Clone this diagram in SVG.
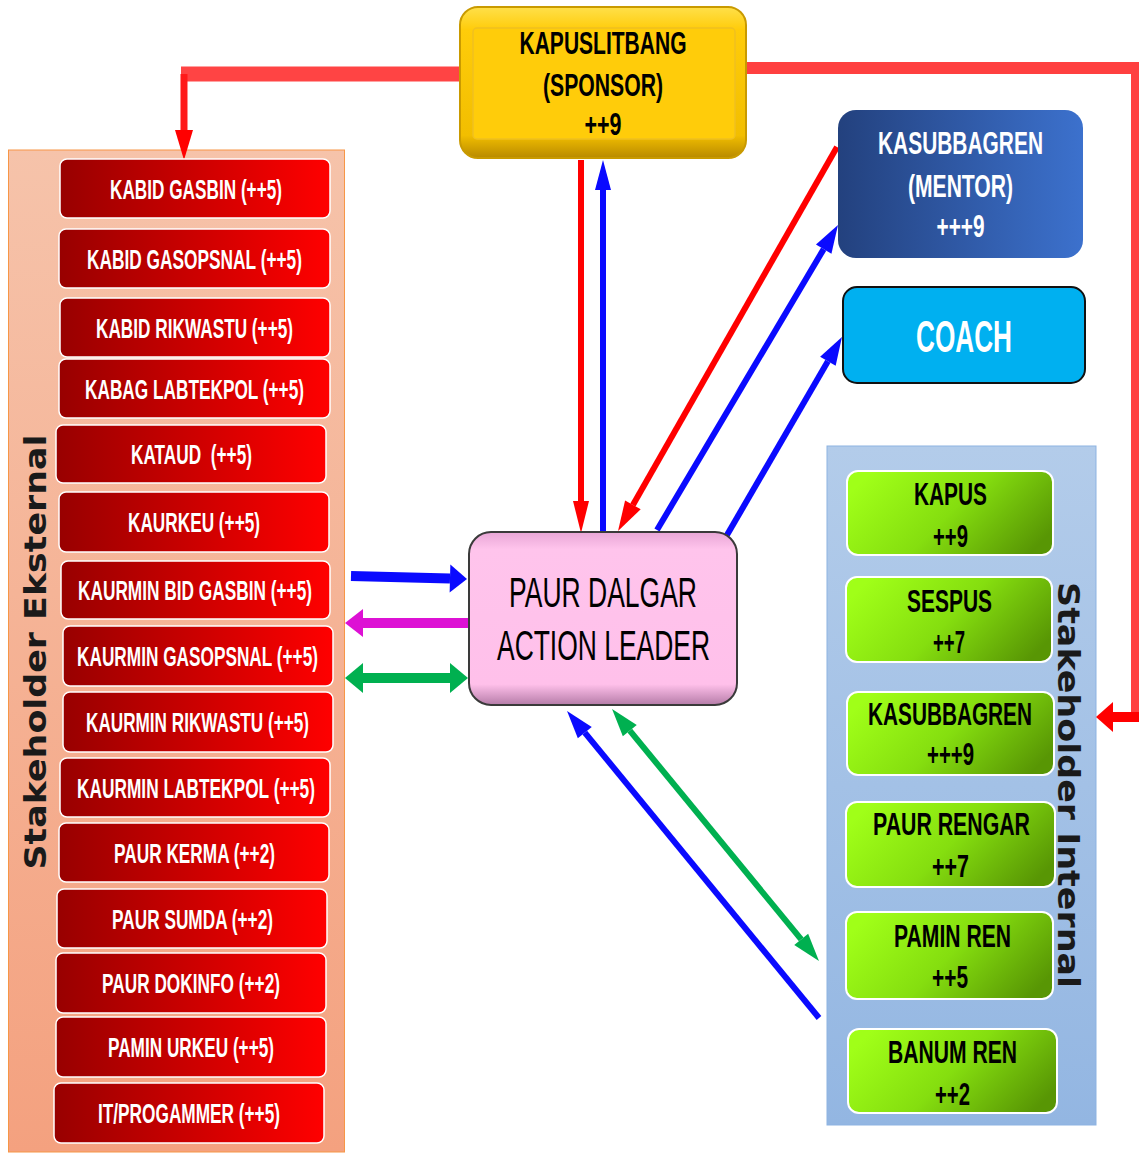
<svg xmlns="http://www.w3.org/2000/svg" width="1139" height="1153" viewBox="0 0 1139 1153">
<style>
.rb{fill:url(#gRed);stroke:#FFFFFF;stroke-width:1.5}
.gb{fill:url(#gGreen);stroke:#FFFFFF;stroke-width:2}
.rt{font-family:"Liberation Sans Narrow","Liberation Sans",Arial,sans-serif;font-weight:bold;font-size:27px;fill:#FFFFFF;text-anchor:middle}
.gt{font-family:"Liberation Sans Narrow","Liberation Sans",Arial,sans-serif;font-weight:bold;font-size:32px;fill:#000000;text-anchor:middle}
.wt{font-family:"Liberation Sans Narrow","Liberation Sans",Arial,sans-serif;font-weight:bold;font-size:32px;fill:#FFFFFF;text-anchor:middle}
.kt{font-family:"Liberation Sans Narrow","Liberation Sans",Arial,sans-serif;font-weight:bold;font-size:32px;fill:#000000;text-anchor:middle}
.pt{font-family:"Liberation Sans Narrow","Liberation Sans",Arial,sans-serif;font-weight:normal;font-size:43px;fill:#000000;text-anchor:middle}
.st{font-family:"DejaVu Sans",Verdana,sans-serif;font-weight:bold;font-size:30px;fill:#1A1A1A;text-anchor:middle}
.thin{fill:none;stroke-width:6;stroke-linecap:butt}
.thick{fill:none;stroke-width:10;stroke-linecap:butt}
</style>
<defs>
<linearGradient id="gRed" x1="0" y1="0" x2="1" y2="0"><stop offset="0" stop-color="#980000"/><stop offset="1" stop-color="#FF0000"/></linearGradient>
<linearGradient id="gGreen" x1="0" y1="0.3" x2="1" y2="0.7"><stop offset="0" stop-color="#A0FF18"/><stop offset="0.5" stop-color="#85DE0F"/><stop offset="1" stop-color="#589604"/></linearGradient>
<linearGradient id="gMentor" x1="0" y1="0" x2="1" y2="0"><stop offset="0" stop-color="#23417E"/><stop offset="1" stop-color="#3C71CD"/></linearGradient>
<linearGradient id="gLeft" x1="0" y1="0" x2="0" y2="1"><stop offset="0" stop-color="#F6C3AA"/><stop offset="1" stop-color="#F4A17F"/></linearGradient>
<linearGradient id="gRight" x1="0" y1="0" x2="0" y2="1"><stop offset="0" stop-color="#B3CCEA"/><stop offset="1" stop-color="#93B6E2"/></linearGradient>
<linearGradient id="gGold" x1="0" y1="0" x2="0" y2="1"><stop offset="0" stop-color="#FFE04A"/><stop offset="0.15" stop-color="#FFCC0A"/><stop offset="0.85" stop-color="#F2BE00"/><stop offset="1" stop-color="#B88A00"/></linearGradient>
<linearGradient id="gPink" x1="0" y1="0" x2="0" y2="1"><stop offset="0" stop-color="#E8A6D6"/><stop offset="0.1" stop-color="#FFC4EC"/><stop offset="0.88" stop-color="#FFC0EA"/><stop offset="1" stop-color="#B57CA8"/></linearGradient>
<marker id="mRed" markerUnits="userSpaceOnUse" orient="auto-start-reverse" overflow="visible" refX="0" refY="0" markerWidth="1" markerHeight="1"><path d="M0,-8 L32,0 L0,8 z" fill="#FF0000"/></marker>
<marker id="mRedD" markerUnits="userSpaceOnUse" orient="auto-start-reverse" overflow="visible" refX="0" refY="0" markerWidth="1" markerHeight="1"><path d="M0,-9 L30,0 L0,9 z" fill="#FF0000"/></marker>
<marker id="mBlue" markerUnits="userSpaceOnUse" orient="auto-start-reverse" overflow="visible" refX="0" refY="0" markerWidth="1" markerHeight="1"><path d="M0,-8 L30,0 L0,8 z" fill="#0A0AFF"/></marker>
<marker id="mBlueD" markerUnits="userSpaceOnUse" orient="auto-start-reverse" overflow="visible" refX="0" refY="0" markerWidth="1" markerHeight="1"><path d="M0,-9 L28,0 L0,9 z" fill="#0A0AFF"/></marker>
<marker id="mGreenD" markerUnits="userSpaceOnUse" orient="auto-start-reverse" overflow="visible" refX="0" refY="0" markerWidth="1" markerHeight="1"><path d="M0,-9 L28,0 L0,9 z" fill="#00B050"/></marker>
<marker id="mBlueT" markerUnits="userSpaceOnUse" orient="auto-start-reverse" overflow="visible" refX="0" refY="0" markerWidth="1" markerHeight="1"><path d="M0,-14 L17,0 L0,14 z" fill="#0A0AFF"/></marker>
<marker id="mMagT" markerUnits="userSpaceOnUse" orient="auto-start-reverse" overflow="visible" refX="0" refY="0" markerWidth="1" markerHeight="1"><path d="M0,-14 L18,0 L0,14 z" fill="#DD11D4"/></marker>
<marker id="mGreenT" markerUnits="userSpaceOnUse" orient="auto-start-reverse" overflow="visible" refX="0" refY="0" markerWidth="1" markerHeight="1"><path d="M0,-15 L18,0 L0,15 z" fill="#00B050"/></marker>
<marker id="mRedT" markerUnits="userSpaceOnUse" orient="auto-start-reverse" overflow="visible" refX="0" refY="0" markerWidth="1" markerHeight="1"><path d="M0,-15 L17,0 L0,15 z" fill="#FF0000"/></marker>
</defs>
<rect width="1139" height="1153" fill="#FFFFFF"/>

<g id="panel-eksternal">
<rect x="8.5" y="150" width="336" height="1002" fill="url(#gLeft)" stroke="#F79646" stroke-width="1"/>
<text class="st" transform="translate(46,652) rotate(-90)" textLength="435" lengthAdjust="spacingAndGlyphs">Stakeholder Eksternal</text>
</g>
<g id="panel-internal">
<rect x="827" y="446" width="269" height="679" fill="url(#gRight)" stroke="#8DB3E2" stroke-width="1"/>
<text class="st" transform="translate(1058,785) rotate(90)" textLength="406" lengthAdjust="spacingAndGlyphs">Stakeholder Internal</text>
</g>

<g id="connectors">
<path d="M460,74 H181" stroke="#FF4444" stroke-width="15" fill="none"/>
<path d="M184,74 V130" stroke="#FF1A1A" stroke-width="7" fill="none" marker-end="url(#mRedD)"/>
<path d="M746,68 H1139" stroke="#FF4040" stroke-width="12" fill="none"/>
<path d="M1135,62 V722" stroke="#FF4040" stroke-width="8" fill="none"/>
<path d="M1139,717 H1113" stroke="#FF0000" stroke-width="10" fill="none" marker-end="url(#mRedT)"/>
<path class="thin" d="M581,160 V501" stroke="#FF0000" stroke-width="5" marker-end="url(#mRed)"/>
<path class="thin" d="M603,532 V190" stroke="#0A0AFF" stroke-width="5" marker-end="url(#mBlue)"/>
<path class="thin" d="M837,147 L632.9,504.9" stroke="#FF0000" marker-end="url(#mRedD)"/>
<path class="thin" d="M657,530 L823.7,249.1" stroke="#0A0AFF" marker-end="url(#mBlueD)"/>
<path class="thin" d="M727,535 L827.9,361.2" stroke="#0A0AFF" marker-end="url(#mBlueD)"/>
<path class="thin" d="M819,1018 L584.8,732.6" stroke="#0A0AFF" marker-end="url(#mBlueD)"/>
<path class="thin" d="M629.8,730.6 L801.2,939.4" stroke="#00B050" marker-start="url(#mGreenD)" marker-end="url(#mGreenD)"/>
<path class="thick" d="M351,576 L450,578.5" stroke="#0A0AFF" marker-end="url(#mBlueT)"/>
<path class="thick" d="M473,623 H363" stroke="#DD11D4" marker-end="url(#mMagT)"/>
<path class="thick" d="M363,678 H450" stroke="#00B050" marker-start="url(#mGreenT)" marker-end="url(#mGreenT)"/>
</g>

<g id="kapuslitbang">
<rect x="460" y="7" width="286" height="151" rx="18" fill="url(#gGold)" stroke="#C99A00" stroke-width="2"/>
<rect x="473" y="28" width="262" height="111" rx="4" fill="#FFCC0A" stroke="#F0C020" stroke-width="1.5"/>
<text class="kt" x="603" y="54" textLength="167" lengthAdjust="spacingAndGlyphs">KAPUSLITBANG</text>
<text class="kt" x="603" y="96" textLength="120" lengthAdjust="spacingAndGlyphs">(SPONSOR)</text>
<text class="kt" x="603" y="135" textLength="37" lengthAdjust="spacingAndGlyphs">++9</text>
</g>

<g id="mentor">
<rect x="838" y="110" width="245" height="148" rx="18" fill="url(#gMentor)"/>
<text class="wt" x="960.5" y="154" textLength="165" lengthAdjust="spacingAndGlyphs">KASUBBAGREN</text>
<text class="wt" x="960.5" y="197" textLength="105" lengthAdjust="spacingAndGlyphs">(MENTOR)</text>
<text class="wt" x="960.5" y="237" textLength="48" lengthAdjust="spacingAndGlyphs">+++9</text>
</g>

<g id="coach">
<rect x="843" y="287" width="242" height="96" rx="14" fill="#00B0F0" stroke="#111111" stroke-width="2"/>
<text class="wt" x="964" y="352" style="font-size:45px" textLength="96" lengthAdjust="spacingAndGlyphs">COACH</text>
</g>

<g id="action-leader">
<rect x="469" y="532" width="268" height="173" rx="22" fill="url(#gPink)" stroke="#3A3A3A" stroke-width="2"/>
<text class="pt" x="603" y="607" textLength="188" lengthAdjust="spacingAndGlyphs">PAUR DALGAR</text>
<text class="pt" x="603.5" y="660" textLength="213" lengthAdjust="spacingAndGlyphs">ACTION LEADER</text>
</g>

<g id="kabid-gasbin"><rect class="rb" x="60" y="159" width="270" height="59" rx="7"/><text class="rt" x="196" y="199" textLength="172" lengthAdjust="spacingAndGlyphs">KABID GASBIN (++5)</text></g>
<g id="kabid-gasopsnal"><rect class="rb" x="59" y="229" width="271" height="59" rx="7"/><text class="rt" x="194.5" y="269" textLength="215" lengthAdjust="spacingAndGlyphs">KABID GASOPSNAL (++5)</text></g>
<g id="kabid-rikwastu"><rect class="rb" x="60" y="298" width="270" height="59" rx="7"/><text class="rt" x="194.5" y="338" textLength="197" lengthAdjust="spacingAndGlyphs">KABID RIKWASTU (++5)</text></g>
<g id="kabag-labtekpol"><rect class="rb" x="59" y="359" width="271" height="59" rx="7"/><text class="rt" x="194.5" y="399" textLength="219" lengthAdjust="spacingAndGlyphs">KABAG LABTEKPOL (++5)</text></g>
<g id="kataud"><rect class="rb" x="56" y="425" width="270" height="58" rx="7"/><text class="rt" x="191.5" y="464" textLength="121" lengthAdjust="spacingAndGlyphs">KATAUD&#160; (++5)</text></g>
<g id="kaurkeu"><rect class="rb" x="59" y="492" width="270" height="60" rx="7"/><text class="rt" x="194" y="532" textLength="132" lengthAdjust="spacingAndGlyphs">KAURKEU (++5)</text></g>
<g id="kaurmin-bid-gasbin"><rect class="rb" x="61" y="561" width="269" height="58" rx="7"/><text class="rt" x="195" y="600" textLength="234" lengthAdjust="spacingAndGlyphs">KAURMIN BID GASBIN (++5)</text></g>
<g id="kaurmin-gasopsnal"><rect class="rb" x="63" y="626" width="270" height="60" rx="7"/><text class="rt" x="197.5" y="666" textLength="241" lengthAdjust="spacingAndGlyphs">KAURMIN GASOPSNAL (++5)</text></g>
<g id="kaurmin-rikwastu"><rect class="rb" x="63" y="692" width="270" height="60" rx="7"/><text class="rt" x="197.5" y="732" textLength="223" lengthAdjust="spacingAndGlyphs">KAURMIN RIKWASTU (++5)</text></g>
<g id="kaurmin-labtekpol"><rect class="rb" x="60" y="758" width="270" height="59" rx="7"/><text class="rt" x="196" y="798" textLength="238" lengthAdjust="spacingAndGlyphs">KAURMIN LABTEKPOL (++5)</text></g>
<g id="paur-kerma"><rect class="rb" x="59" y="823" width="270" height="59" rx="7"/><text class="rt" x="194.5" y="863" textLength="161" lengthAdjust="spacingAndGlyphs">PAUR KERMA (++2)</text></g>
<g id="paur-sumda"><rect class="rb" x="57" y="889" width="270" height="59" rx="7"/><text class="rt" x="192.5" y="929" textLength="161" lengthAdjust="spacingAndGlyphs">PAUR SUMDA (++2)</text></g>
<g id="paur-dokinfo"><rect class="rb" x="56" y="953" width="270" height="60" rx="7"/><text class="rt" x="191" y="993" textLength="178" lengthAdjust="spacingAndGlyphs">PAUR DOKINFO (++2)</text></g>
<g id="pamin-urkeu"><rect class="rb" x="56" y="1017" width="270" height="60" rx="7"/><text class="rt" x="191" y="1057" textLength="166" lengthAdjust="spacingAndGlyphs">PAMIN URKEU (++5)</text></g>
<g id="it-progammer"><rect class="rb" x="54" y="1083" width="270" height="60" rx="7"/><text class="rt" x="189" y="1123" textLength="182" lengthAdjust="spacingAndGlyphs">IT/PROGAMMER (++5)</text></g>

<g id="kapus"><rect class="gb" x="847" y="471" width="206" height="84" rx="11"/><text class="gt" x="950.5" y="505" textLength="73" lengthAdjust="spacingAndGlyphs">KAPUS</text><text class="gt" x="950.5" y="547" textLength="35" lengthAdjust="spacingAndGlyphs">++9</text></g>
<g id="sespus"><rect class="gb" x="846" y="577" width="206" height="85" rx="11"/><text class="gt" x="949.5" y="612" textLength="85" lengthAdjust="spacingAndGlyphs">SESPUS</text><text class="gt" x="949" y="653" textLength="32" lengthAdjust="spacingAndGlyphs">++7</text></g>
<g id="kasubbagren"><rect class="gb" x="847" y="692" width="207" height="83" rx="11"/><text class="gt" x="950" y="725" textLength="164" lengthAdjust="spacingAndGlyphs">KASUBBAGREN</text><text class="gt" x="950.5" y="765" textLength="47" lengthAdjust="spacingAndGlyphs">+++9</text></g>
<g id="paur-rengar"><rect class="gb" x="846" y="802" width="209" height="85" rx="11"/><text class="gt" x="951.5" y="835" textLength="157" lengthAdjust="spacingAndGlyphs">PAUR RENGAR</text><text class="gt" x="950.5" y="877" textLength="37" lengthAdjust="spacingAndGlyphs">++7</text></g>
<g id="pamin-ren"><rect class="gb" x="846" y="912" width="207" height="87" rx="11"/><text class="gt" x="952.5" y="947" textLength="117" lengthAdjust="spacingAndGlyphs">PAMIN REN</text><text class="gt" x="950" y="988" textLength="36" lengthAdjust="spacingAndGlyphs">++5</text></g>
<g id="banum-ren"><rect class="gb" x="848" y="1029" width="209" height="84" rx="11"/><text class="gt" x="952.5" y="1063" textLength="129" lengthAdjust="spacingAndGlyphs">BANUM REN</text><text class="gt" x="952.5" y="1105" textLength="35" lengthAdjust="spacingAndGlyphs">++2</text></g>
</svg>
